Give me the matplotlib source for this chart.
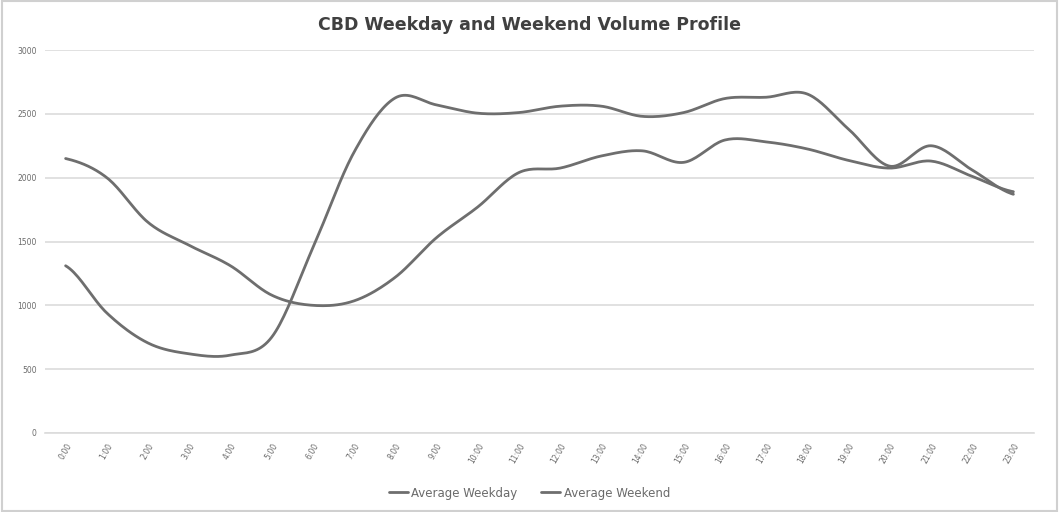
import numpy as np
import matplotlib
matplotlib.use("Agg")
import matplotlib.pyplot as plt
from matplotlib.patches import Rectangle

hours = ["0:00", "1:00", "2:00", "3:00", "4:00", "5:00", "6:00", "7:00",
         "8:00", "9:00", "10:00", "11:00", "12:00", "13:00", "14:00", "15:00",
         "16:00", "17:00", "18:00", "19:00", "20:00", "21:00", "22:00", "23:00"]
weekday = [1310, 940, 705, 620, 610, 750, 1450, 2200,
           2625, 2570, 2505, 2510, 2560, 2560, 2480, 2510,
           2620, 2630, 2655, 2380, 2090, 2250, 2060, 1870]
weekend = [2150, 2000, 1650, 1470, 1310, 1080, 1000, 1035,
           1220, 1530, 1770, 2040, 2075, 2170, 2210, 2120,
           2295, 2280, 2225, 2135, 2075, 2130, 2010, 1890]
yticks = [0, 500, 1000, 1500, 2000, 2500, 3000]


def smooth(y, n=20):
    # Excel style smoothed line (Catmull-Rom through the points)
    y = np.asarray(y, float)
    p = np.concatenate([[y[0]], y, [y[-1]]])
    xs, ys = [], []
    for i in range(len(y) - 1):
        t = np.linspace(0, 1, n, endpoint=False)
        p0, p1, p2, p3 = p[i], p[i + 1], p[i + 2], p[i + 3]
        yy = 0.5 * (2 * p1 + (-p0 + p2) * t + (2 * p0 - 5 * p1 + 4 * p2 - p3) * t ** 2
                    + (-p0 + 3 * p1 - 3 * p2 + p3) * t ** 3)
        xs.append(i + t)
        ys.append(yy)
    xs.append([len(y) - 1])
    ys.append([y[-1]])
    return np.concatenate(xs), np.concatenate(ys)


fig = plt.figure(figsize=(10.59, 5.12), dpi=100)
ax = fig.add_axes([45 / 1059, 1 - 433 / 512, (1034 - 45) / 1059, (433 - 50) / 512])

line_col = "#6e6e6e"
x1, y1 = smooth(weekday)
x2, y2 = smooth(weekend)
ax.plot(x1, y1, color=line_col, lw=2.0, label="Average Weekday", solid_capstyle="round")
ax.plot(x2, y2, color=line_col, lw=2.0, label="Average Weekend", solid_capstyle="round")

ax.set_xlim(-0.5, len(hours) - 0.5)
ax.set_ylim(0, 3000)
ax.set_yticks(yticks)
ax.set_yticklabels([str(v) for v in yticks], fontsize=5.5, color="#6a6a6a")
ax.set_xticks(range(len(hours)))
ax.set_xticklabels(hours, rotation=60, fontsize=5.5, color="#6a6a6a", ha="right",
                   rotation_mode="anchor")
ax.tick_params(axis="both", length=0, pad=6)
ax.grid(axis="y", color="#dcdcdc", lw=1.2)
ax.set_axisbelow(True)
for s in ["top", "right", "left"]:
    ax.spines[s].set_visible(False)
ax.spines["bottom"].set_color("#dcdcdc")
ax.spines["bottom"].set_linewidth(1.2)

fig.text(0.5, 1 - 25 / 512, "CBD Weekday and Weekend Volume Profile", ha="center",
         va="center", fontsize=12.5, fontweight="bold", color="#404040")
fig.legend(loc="center", bbox_to_anchor=(0.5, 1 - 493 / 512), ncol=2, frameon=False,
           fontsize=8.5, handlelength=1.6, handletextpad=0.3, columnspacing=2.0,
           labelcolor="#6a6a6a")
fig.patches.append(Rectangle((0.002, 0.002), 0.996, 0.996, transform=fig.transFigure,
                             fill=False, edgecolor="#d0d0d0", lw=1.5))

plt.savefig("out.png", dpi=100)
